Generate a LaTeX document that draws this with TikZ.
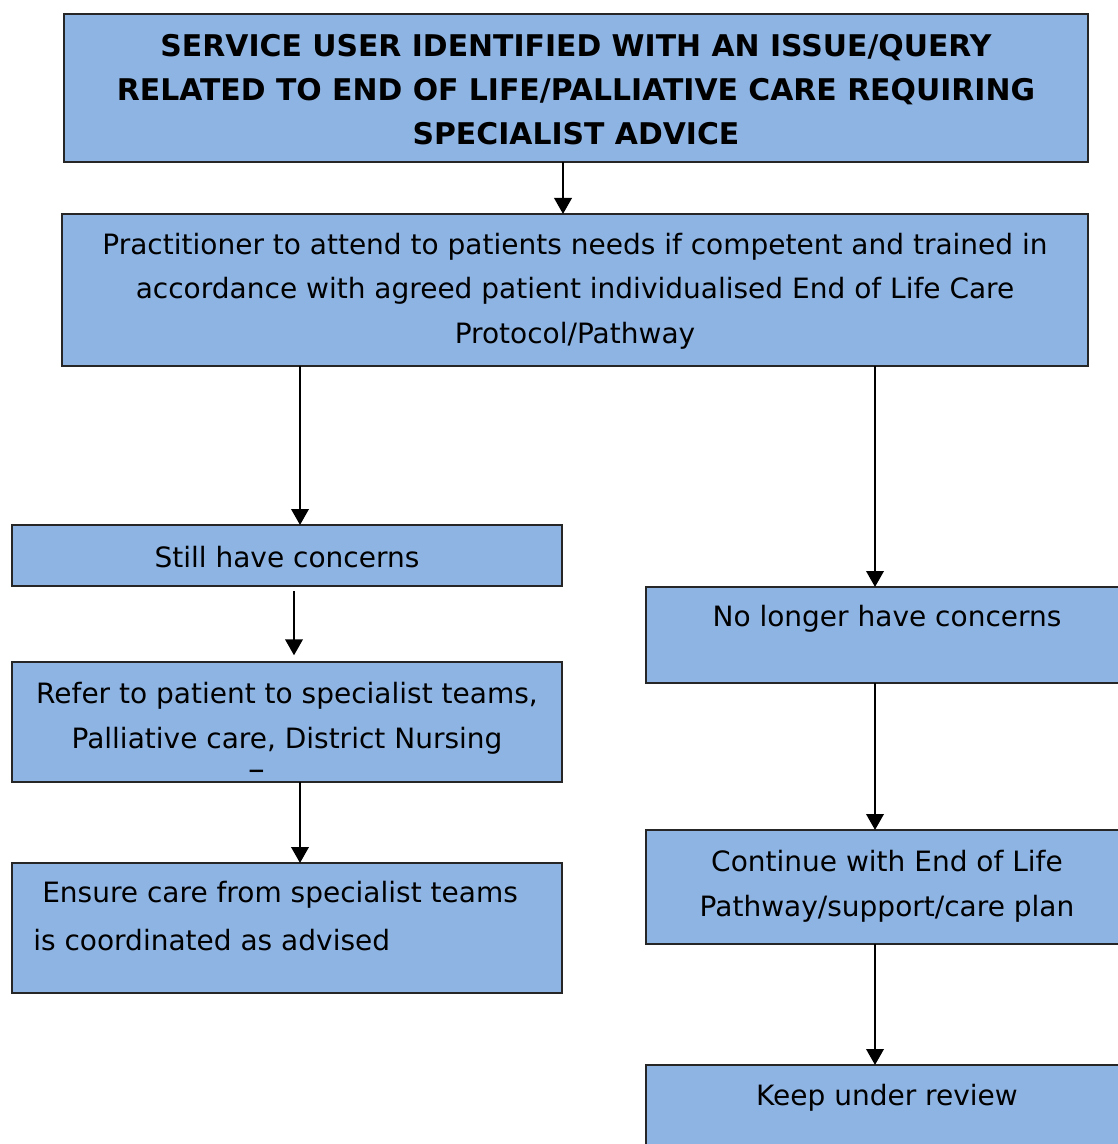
\documentclass[tikz,border=0pt]{standalone}
\usepackage{fontspec}
\setmainfont{DejaVu Sans}
\usetikzlibrary{arrows.meta}
\definecolor{boxblue}{HTML}{8EB4E3}
\newcommand\bx[5]{\node[box,anchor=north west,minimum width=#4*0.75pt,minimum height=#5*0.75pt] (#1) at (#2,#3) {};}
\begin{document}
\begin{tikzpicture}[x=0.75pt,y=-0.75pt,
 box/.style={draw=black!85,line width=1.1pt,fill=boxblue,inner sep=0pt,outer sep=0pt},
 txt/.style={font=\fontsize{21}{33.5}\selectfont,inner sep=0pt,align=center},
 btxt/.style={txt,font=\fontsize{22.4}{33}\selectfont\bfseries},
 arr/.style={line width=2pt,-{Triangle[width=13pt,length=12pt]}}]
\useasboundingbox (0,0) rectangle (1117,1144);
\bx{n1}{64}{14}{1024}{148}
\bx{n2}{62}{214}{1026}{152}
\bx{n3}{12}{525}{550}{61}
\bx{n4}{646}{587}{480}{96}
\bx{n5}{12}{662}{550}{120}
\bx{n6}{12}{863}{550}{130}
\bx{n7}{646}{830}{480}{114}
\bx{n8}{646}{1065}{480}{90}
\node[btxt] (t1) at (576,90) {SERVICE USER IDENTIFIED WITH AN ISSUE/QUERY\\RELATED TO END OF LIFE/PALLIATIVE CARE REQUIRING\\SPECIALIST ADVICE};
\node[txt] (t2) at (575,291) {Practitioner to attend to patients needs if competent and trained in\\accordance with agreed patient individualised End of Life Care\\Protocol/Pathway};
\node[txt] (t3) at (287,557) {Still have concerns};
\node[txt] (t4) at (887,619) {No longer have concerns};
\node[txt] (t5) at (287,718) {Refer to patient to specialist teams,\\Palliative care, District Nursing};
\node[txt,font=\fontsize{25}{30}\selectfont] (t5b) at (257,775) {–};
\node[txt,anchor=west] (t6a) at (42,895) {Ensure care from specialist teams};
\node[txt,anchor=west] (t6b) at (33,940) {is coordinated as advised};
\node[txt] (t7) at (887,886) {Continue with End of Life\\Pathway/support/care plan};
\node[txt] (t8) at (887,1098) {Keep under review};
\coordinate (c1) at (563,0);
\coordinate (c2) at (300,0);
\coordinate (c3) at (875,0);
\coordinate (c4) at (294,0);
\draw[arr] (n1.south -| c1) -- (n2.north -| c1);
\draw[arr] (n2.south -| c2) -- (n3.north -| c2);
\draw[arr] (n2.south -| c3) -- (n4.north -| c3);
\draw[arr] ([yshift=-4pt]n3.south -| c4) -- ([yshift=5pt]n5.north -| c4);
\draw[arr] (n5.south -| c2) -- (n6.north -| c2);
\draw[arr] (n4.south -| c3) -- (n7.north -| c3);
\draw[arr] (n7.south -| c3) -- (n8.north -| c3);
\end{tikzpicture}
\end{document}
